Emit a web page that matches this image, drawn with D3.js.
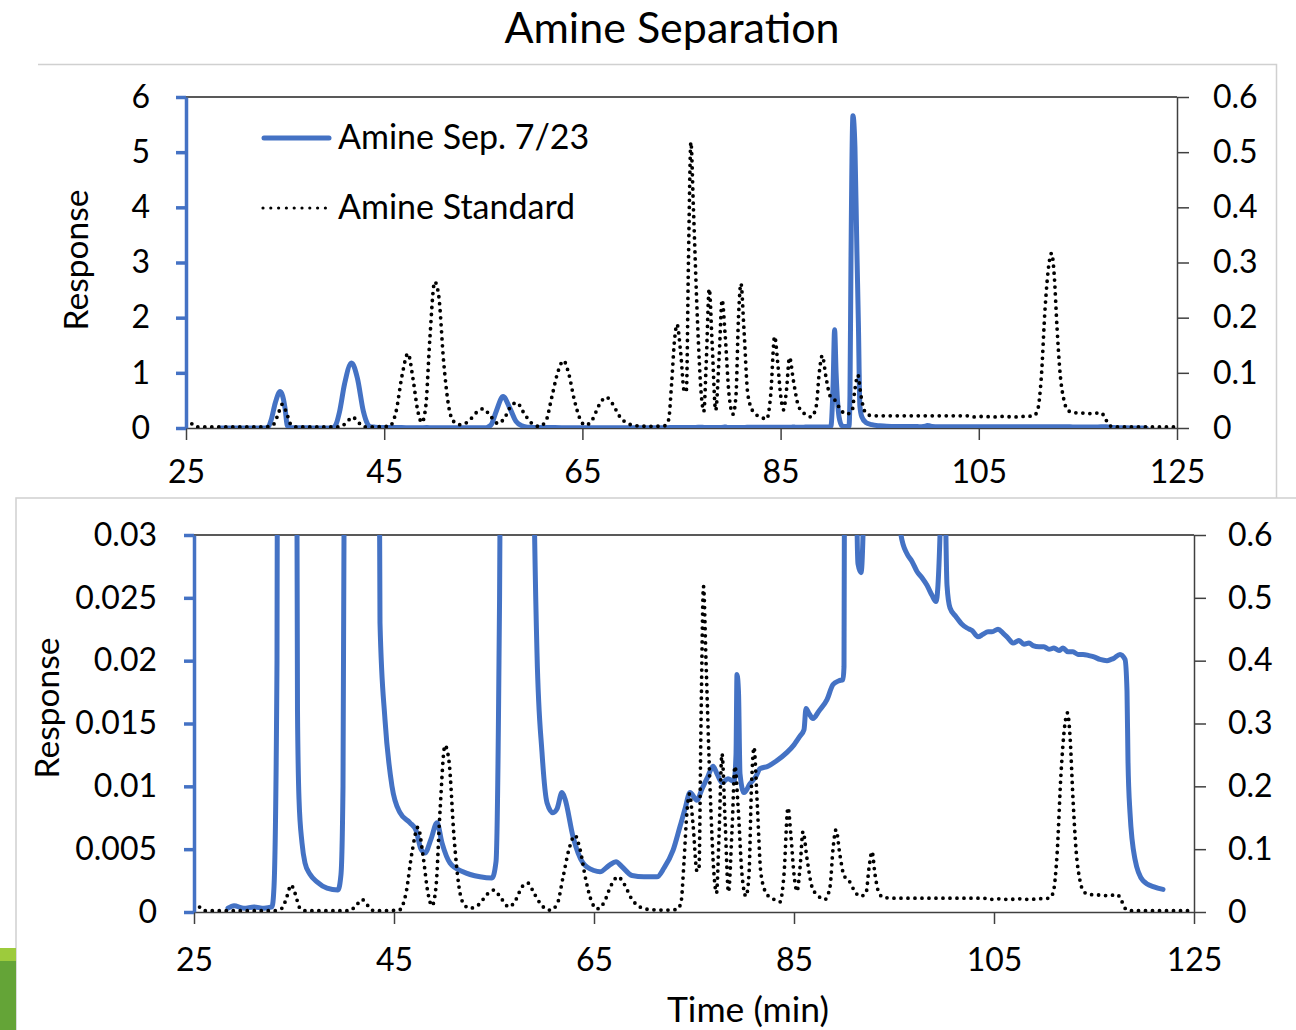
<!DOCTYPE html>
<html>
<head>
<meta charset="utf-8">
<script src="https://cdn.jsdelivr.net/npm/d3@7"></script>
<style>
  html, body { margin: 0; padding: 0; background: #ffffff; }
  svg { display: block; }
  text { font-family: Lato, "Open Sans", sans-serif; fill: #000; }
</style>
</head>
<body>
<svg id="chart" width="1296" height="1030"></svg>
<script>
// ---------------- DATA ----------------
const chartTitle = "Amine Separation";
const seriesNames = ["Amine Sep. 7/23", "Amine Standard"];
const xTickValues = [25, 45, 65, 85, 105, 125];
const topLeftTicks = [0, 1, 2, 3, 4, 5, 6];
const bottomLeftTicks = [0, 0.005, 0.01, 0.015, 0.02, 0.025, 0.03];
const rightTicks = [0, 0.1, 0.2, 0.3, 0.4, 0.5, 0.6];
const xTitle = "Time (min)";
const yTitle = "Response";

// Amine Sep. 7/23 (primary axis)
const sepTime = [28.4, 29, 30, 31, 32, 32.8, 33.0, 33.3, 33.6, 34.0, 34.5, 35.0, 35.2, 35.35, 35.5, 35.8, 36.1, 36.6, 37.3, 38.3, 39.4,
  39.7, 39.9, 40.1, 40.5, 41.0, 41.7, 42.3, 42.9, 43.3, 43.6, 44.1, 44.8, 45.6, 46.6, 47.2, 47.7, 48.1, 48.7, 49.3, 49.8, 50.6,
  51.9, 53.6, 54.8, 55.2, 55.5, 55.8, 56.3, 57.0, 57.7, 58.3, 58.9, 59.3, 59.8, 60.3, 60.9, 61.3, 61.8, 62.1, 62.9, 63.9, 65.0,
  65.6, 66.5, 67.2, 67.8, 68.8, 70.0, 71.3, 72.0, 72.9, 73.6, 74.1, 74.6, 75.3, 75.8, 76.4, 76.9, 77.3, 77.8, 78.4, 79.0, 79.2,
  79.3, 79.45, 79.6, 80.0, 80.6, 81.2, 81.6, 82.4, 83.2, 84.3, 85.0, 85.6, 86.0, 86.2, 86.5, 86.9, 87.5, 88.3, 88.9, 89.5, 89.9,
  90.0, 90.1, 90.3, 90.45, 90.6, 90.9, 91.2, 91.4, 91.7, 91.9, 92.0, 92.1, 92.3, 92.5, 92.7, 92.85, 93.0, 93.2, 93.6, 94.2, 95.0,
  95.7, 96.3, 96.8, 97.3, 97.8, 98.3, 98.8, 99.2, 99.6, 99.8, 100.0, 100.3, 100.6, 101.2, 101.8, 102.3, 102.8, 103.4, 103.9,
  104.4, 104.8, 105.4, 105.9, 106.4, 106.9, 107.5, 108.0, 108.5, 108.9, 109.5, 110.0, 110.5, 111.0, 111.5, 111.9, 112.4, 112.9,
  113.4, 113.9, 114.5, 115.0, 115.6, 116.3, 116.7, 117.0, 117.6, 118.1, 118.3, 118.4, 118.6, 119.1, 119.9, 121.0, 121.9];
const sepResp = [0.0003, 0.0005, 0.0003, 0.0004, 0.0003, 0.0004, 0.002, 0.02, 0.15, 0.45, 0.66, 0.35, 0.06, 0.016, 0.009, 0.0055, 0.0039, 0.003, 0.0024, 0.0019, 0.00175,
  0.003, 0.01, 0.05, 0.3, 0.8, 1.18, 0.9, 0.3, 0.08, 0.023, 0.0153, 0.01, 0.0079, 0.0071, 0.0065, 0.005, 0.0047, 0.0058, 0.0071, 0.0055, 0.0039,
  0.0032, 0.0028, 0.0027, 0.004, 0.02, 0.06, 0.3, 0.57, 0.35, 0.12, 0.04, 0.0206, 0.0127, 0.0087, 0.0079, 0.0082, 0.0095, 0.009, 0.006, 0.0039, 0.0033,
  0.0032, 0.0037, 0.004, 0.0036, 0.0029, 0.0028, 0.0028, 0.0035, 0.0049, 0.0068, 0.0082, 0.0095, 0.0089, 0.0098, 0.0108, 0.0116, 0.011, 0.0103, 0.0106, 0.0104, 0.0125,
  0.0189, 0.0175, 0.011, 0.0095, 0.0102, 0.0108, 0.0114, 0.0116, 0.012, 0.0127, 0.0133, 0.014, 0.0145, 0.0162, 0.0158, 0.0154, 0.016, 0.0169, 0.0181, 0.0184, 0.0185,
  0.0195, 0.05, 0.8, 1.78, 1.0, 0.2, 0.04, 0.0277, 0.027, 0.03, 0.6, 3.0, 5.66, 5.1, 3.2, 1.9, 0.4, 0.2, 0.1, 0.06, 0.04,
  0.03, 0.0285, 0.0279, 0.0271, 0.0266, 0.026, 0.0252, 0.0247, 0.03, 0.045, 0.04, 0.026, 0.0242, 0.0235, 0.0229, 0.0226, 0.0224, 0.0219, 0.0221,
  0.0223, 0.0223, 0.0225, 0.0222, 0.0218, 0.0214, 0.0216, 0.0213, 0.0214, 0.0212, 0.0211, 0.0211, 0.0209, 0.021, 0.0208, 0.021, 0.0207, 0.0207,
  0.0205, 0.0205, 0.0204, 0.0203, 0.0201, 0.02, 0.0201, 0.0202, 0.0205, 0.0201, 0.0176, 0.012, 0.0079, 0.0042, 0.0025, 0.002, 0.0018];

// Amine Standard (secondary axis)
const stdTime = [25.0, 25.5, 26.0, 27.0, 30.0, 33.0, 33.8, 34.3, 34.7, 35.1, 35.6, 36.2, 40.5, 41.2, 41.8, 42.4, 43.0, 45.5, 46.2, 46.8,
  47.4, 47.9, 48.4, 48.8, 49.2, 49.6, 50.1, 50.5, 51.0, 51.5, 52.0, 52.6, 53.5, 54.3, 55.0, 55.7, 56.5, 57.2, 57.8, 58.4, 59.0,
  59.8, 60.6, 61.3, 61.9, 62.5, 63.1, 63.6, 64.2, 64.8, 65.3, 66.0, 66.7, 67.4, 68.0, 68.8, 69.6, 70.5, 72.0, 73.3, 73.7, 74.0,
  74.3, 74.55, 74.9, 75.3, 75.5, 75.7, 75.95, 76.2, 76.6, 77.0, 77.25, 77.5, 77.8, 78.1, 78.45, 78.8, 79.1, 79.4, 79.8, 80.2,
  80.5, 80.75, 81.0, 81.3, 81.7, 82.3, 83.0, 83.6, 84.0, 84.4, 84.7, 85.0, 85.3, 85.6, 85.9, 86.3, 86.8, 87.4, 88.1, 88.6, 88.9,
  89.2, 89.6, 90.0, 90.5, 91.0, 91.6, 92.2, 92.5, 92.8, 93.1, 93.5, 94.0, 95.0, 100.0, 104.0, 104.5, 105.5, 106.5, 107.5, 108.5,
  109.5, 110.5, 110.9, 111.3, 111.7, 112.1, 112.35, 112.6, 112.9, 113.2, 113.6, 114.0, 114.5, 115.5, 116.5, 117.3, 117.7, 118.1,
  118.6, 125.0];
const stdResp = [0.002, 0.008, 0.002, 0.002, 0.002, 0.002, 0.006, 0.025, 0.043, 0.03, 0.006, 0.002, 0.002, 0.01, 0.02, 0.01, 0.002, 0.003, 0.03, 0.095,
  0.135, 0.09, 0.03, 0.01, 0.04, 0.16, 0.265, 0.24, 0.12, 0.04, 0.012, 0.006, 0.012, 0.028, 0.035, 0.022, 0.008, 0.02, 0.04, 0.046, 0.03,
  0.01, 0.003, 0.012, 0.055, 0.1, 0.122, 0.1, 0.05, 0.015, 0.005, 0.015, 0.042, 0.056, 0.045, 0.02, 0.008, 0.004, 0.003, 0.004, 0.015, 0.08,
  0.16, 0.188, 0.14, 0.065, 0.07, 0.3, 0.518, 0.4, 0.2, 0.06, 0.03, 0.12, 0.252, 0.15, 0.032, 0.13, 0.232, 0.17, 0.06, 0.025,
  0.06, 0.2, 0.262, 0.18, 0.06, 0.028, 0.02, 0.016, 0.06, 0.166, 0.12, 0.06, 0.033, 0.07, 0.128, 0.085, 0.04, 0.026, 0.02, 0.04, 0.1,
  0.131, 0.09, 0.058, 0.05, 0.035, 0.025, 0.03, 0.07, 0.096, 0.06, 0.03, 0.023, 0.022, 0.022, 0.022, 0.02, 0.021, 0.02, 0.021, 0.02,
  0.021, 0.022, 0.03, 0.09, 0.22, 0.3, 0.317, 0.28, 0.18, 0.1, 0.05, 0.032, 0.028, 0.027, 0.026, 0.028, 0.02, 0.006,
  0.002, 0.002];

// ---------------- DRAW ----------------
const BLUE = "#4472C4";
const FONT = "Lato, 'Open Sans', sans-serif";
const svg = d3.select("#chart");
const sepData = sepTime.map((t, i) => [t, sepResp[i]]);
const stdData = stdTime.map((t, i) => [t, stdResp[i]]);

// Frames / decoration
svg.append("path").attr("d", "M38,64.5 H1276.5 V498").attr("fill", "none").attr("stroke", "#d0d0d0").attr("stroke-width", 1.5);
svg.append("rect").attr("x", 16).attr("y", 498).attr("width", 1290).attr("height", 540).attr("fill", "#fff")
  .attr("stroke", "#d0d0d0").attr("stroke-width", 1.5);
svg.append("rect").attr("x", 0).attr("y", 948).attr("width", 16).attr("height", 13).attr("fill", "#9dcb3c");
svg.append("rect").attr("x", 0).attr("y", 961).attr("width", 16).attr("height", 69).attr("fill", "#64a437");

svg.append("text").attr("x", 672).attr("y", 43).attr("text-anchor", "middle")
  .style("font-size", "43px").text(chartTitle);

function panel(cfg) {
  const g = svg.append("g");
  const x = d3.scaleLinear().domain([25, 125]).range([cfg.x0, cfg.x1]);
  const yl = d3.scaleLinear().domain([0, cfg.lmax]).range([cfg.y0, cfg.y1]);
  const yr = d3.scaleLinear().domain([0, 0.6]).range([cfg.y0, cfg.y1]);
  const fmt = d3.format("~g");

  // top border
  g.append("line").attr("x1", cfg.x0).attr("x2", cfg.x1).attr("y1", cfg.y1).attr("y2", cfg.y1)
    .attr("stroke", "#595959").attr("stroke-width", 2);

  // right axis
  const ra = g.append("g").attr("transform", `translate(${cfg.x1},0)`)
    .call(d3.axisRight(yr).tickValues(rightTicks).tickSize(12).tickSizeOuter(0).tickPadding(cfg.rpad).tickFormat(fmt));
  ra.select(".domain").attr("stroke", "#404040").attr("stroke-width", 1.5);
  ra.selectAll(".tick line").attr("stroke", "#404040").attr("stroke-width", 1.5);
  ra.selectAll("text").style("font-size", "32px").style("font-family", FONT).attr("fill", "#000");

  // bottom axis
  const ba = g.append("g").attr("transform", `translate(0,${cfg.y0})`)
    .call(d3.axisBottom(x).tickValues(xTickValues).tickSize(12).tickSizeOuter(0).tickPadding(cfg.bpad).tickFormat(fmt));
  ba.select(".domain").attr("stroke", "#404040").attr("stroke-width", 1.5);
  ba.selectAll(".tick line").attr("stroke", "#404040").attr("stroke-width", 1.5);
  ba.selectAll("text").style("font-size", "32px").style("font-family", FONT).attr("fill", "#000");

  // clip
  const cid = "clip" + cfg.id;
  g.append("clipPath").attr("id", cid).append("rect")
    .attr("x", cfg.x0).attr("y", cfg.y1).attr("width", cfg.x1 - cfg.x0).attr("height", cfg.y0 - cfg.y1);

  const lineL = d3.line().x(d => x(d[0])).y(d => yl(d[1])).curve(d3.curveMonotoneX);
  const lineR = d3.line().x(d => x(d[0])).y(d => yr(d[1])).curve(d3.curveMonotoneX);

  g.append("path").datum(sepData).attr("clip-path", `url(#${cid})`).attr("d", lineL)
    .attr("fill", "none").attr("stroke", BLUE).attr("stroke-width", 5).attr("stroke-linejoin", "round").attr("stroke-linecap", "round");
  g.append("path").datum(stdData).attr("clip-path", `url(#${cid})`).attr("d", lineR)
    .attr("fill", "none").attr("stroke", "#000").attr("stroke-width", 3.8)
    .attr("stroke-dasharray", "0 7").attr("stroke-linecap", "round");

  // left axis (blue)
  const la = g.append("g").attr("transform", `translate(${cfg.x0},0)`)
    .call(d3.axisLeft(yl).tickValues(cfg.lticks).tickSize(10).tickSizeOuter(0).tickPadding(cfg.lpad).tickFormat(fmt));
  la.select(".domain").attr("stroke", BLUE).attr("stroke-width", 3.5);
  la.selectAll(".tick line").attr("stroke", BLUE).attr("stroke-width", 3.5);
  la.selectAll("text").style("font-size", "32px").style("font-family", FONT).attr("fill", "#000");

  g.append("text").attr("transform", `translate(${cfg.ytx},${cfg.yty}) rotate(-90)`)
    .attr("text-anchor", "middle").style("font-size", "33.5px").text(yTitle);
  return { x, yl, yr };
}

// top panel
panel({ id: "T", x0: 186, x1: 1177, y0: 428, y1: 97, lmax: 6, lticks: topLeftTicks,
        lpad: 26, rpad: 24, bpad: 20, ytx: 88, yty: 260 });

// legend (top panel)
svg.append("line").attr("x1", 264).attr("x2", 329).attr("y1", 138).attr("y2", 138)
  .attr("stroke", BLUE).attr("stroke-width", 5).attr("stroke-linecap", "round");
svg.append("text").attr("x", 338).attr("y", 149).style("font-size", "34px").text(seriesNames[0]);
svg.append("line").attr("x1", 263).attr("x2", 326).attr("y1", 208).attr("y2", 208)
  .attr("stroke", "#000").attr("stroke-width", 3.2).attr("stroke-dasharray", "0 7.8").attr("stroke-linecap", "round");
svg.append("text").attr("x", 338).attr("y", 219).style("font-size", "34px").text(seriesNames[1]);

// bottom panel
panel({ id: "B", x0: 194, x1: 1194, y0: 912, y1: 535, lmax: 0.03, lticks: bottomLeftTicks,
        lpad: 27, rpad: 22, bpad: 24, ytx: 59, yty: 708 });

svg.append("text").attr("x", 748).attr("y", 1022).attr("text-anchor", "middle")
  .style("font-size", "35.5px").text(xTitle);
</script>
</body>
</html>
